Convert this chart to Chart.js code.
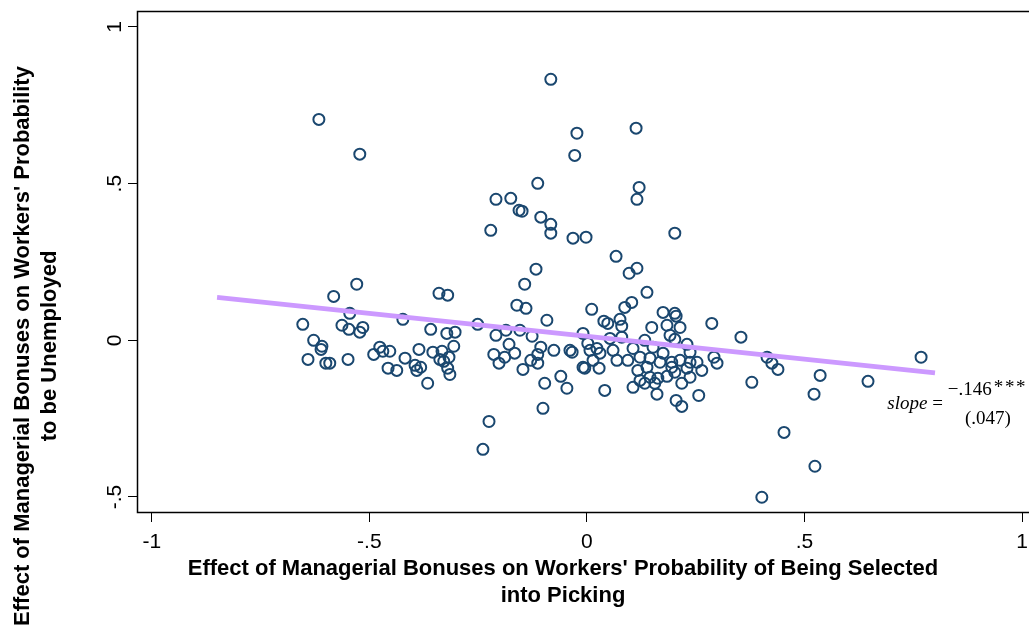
<!DOCTYPE html>
<html>
<head>
<meta charset="utf-8">
<script src="https://cdn.jsdelivr.net/npm/chart.js@4.4.1/dist/chart.umd.min.js"></script>
<style>
	html, body { margin: 0; padding: 0; background: #fff; }
	#wrap { width: 1029px; height: 633px; position: relative; }
</style>
</head>
<body>
<div id="wrap"><canvas id="scatterChart"></canvas></div>
<script>
// effect on selection into picking (x) vs effect on unemployment (y)
const ptX = [
	-0.616, -0.522, -0.653, -0.582, -0.529, -0.545, -0.563, -0.547, -0.515, -0.522,
	-0.628, -0.609, -0.611, -0.641, -0.600, -0.591, -0.549, -0.423, -0.340, -0.320,
	-0.359, -0.322, -0.303, -0.251, -0.306, -0.386, -0.354, -0.333, -0.317, -0.338,
	-0.329, -0.476, -0.490, -0.469, -0.453, -0.418, -0.457, -0.437, -0.395, -0.382,
	-0.391, -0.366, -0.320, -0.315, -0.083, -0.023, 0.113, -0.028, -0.113, 0.120,
	0.115, -0.209, -0.175, -0.156, -0.149, -0.106, -0.083, -0.083, -0.221, -0.032,
	-0.002, 0.202, 0.067, 0.097, 0.115, -0.117, -0.143, 0.138, -0.161, -0.140,
	0.011, -0.092, -0.209, -0.186, -0.154, -0.126, -0.179, -0.214, -0.189, -0.166,
	-0.202, -0.106, -0.076, -0.113, -0.129, -0.113, -0.147, -0.034, -0.039, -0.009,
	-0.097, -0.060, -0.046, -0.101, -0.225, -0.239, 0.041, -0.009, -0.005, 0.028,
	0.002, 0.023, 0.014, 0.030, 0.039, 0.048, 0.076, 0.080, 0.087, 0.103,
	0.053, 0.080, 0.060, 0.069, 0.094, 0.007, 0.175, 0.202, 0.205, 0.149,
	0.184, 0.214, 0.287, 0.191, 0.202, 0.133, 0.106, 0.152, 0.230, 0.175,
	0.237, 0.122, 0.145, 0.168, 0.195, 0.214, 0.237, 0.253, 0.292, 0.299,
	0.117, 0.138, 0.195, 0.202, 0.230, 0.264, 0.122, 0.145, 0.163, 0.184,
	0.218, 0.237, 0.106, 0.133, 0.156, 0.161, 0.205, 0.218, 0.257, 0.354,
	0.414, 0.425, 0.439, 0.379, 0.536, 0.522, 0.646, 0.768, 0.453, 0.524,
	0.402
];
const ptY = [
	0.705, 0.594, 0.051, 0.140, 0.179, 0.086, 0.048, 0.035, 0.041, 0.026,
	0.000, -0.019, -0.029, -0.061, -0.073, -0.073, -0.061, 0.067, 0.150, 0.144,
	0.035, 0.022, 0.026, 0.051, -0.019, -0.029, -0.038, -0.035, -0.054, -0.061,
	-0.067, -0.022, -0.045, -0.035, -0.035, -0.057, -0.089, -0.096, -0.080, -0.086,
	-0.096, -0.137, -0.089, -0.109, 0.833, 0.661, 0.677, 0.590, 0.501, 0.488,
	0.450, 0.450, 0.453, 0.415, 0.412, 0.393, 0.370, 0.342, 0.351, 0.326,
	0.329, 0.342, 0.268, 0.214, 0.230, 0.227, 0.179, 0.153, 0.112, 0.102,
	0.099, 0.064, 0.016, 0.032, 0.032, 0.013, -0.013, -0.045, -0.054, -0.041,
	-0.073, -0.022, -0.032, -0.045, -0.064, -0.073, -0.093, -0.038, -0.032, 0.022,
	-0.137, -0.115, -0.153, -0.217, -0.259, -0.348, -0.160, -0.086, -0.089, -0.089,
	-0.010, -0.026, -0.064, -0.041, 0.061, 0.054, 0.067, 0.045, 0.105, 0.121,
	0.006, 0.010, -0.032, -0.064, -0.064, -0.032, 0.089, 0.086, 0.077, 0.041,
	0.048, 0.041, 0.054, 0.016, 0.003, 0.000, -0.026, -0.022, -0.013, -0.041,
	-0.038, -0.054, -0.057, -0.070, -0.070, -0.064, -0.070, -0.070, -0.054, -0.073,
	-0.096, -0.086, -0.086, -0.102, -0.089, -0.096, -0.128, -0.118, -0.121, -0.115,
	-0.137, -0.118, -0.150, -0.137, -0.137, -0.172, -0.192, -0.211, -0.176, 0.010,
	-0.054, -0.073, -0.093, -0.134, -0.112, -0.172, -0.131, -0.054, -0.294, -0.402,
	-0.501
];

// fitted line end points
const fitX = [-0.85, 0.80];
const fitY = [0.137, -0.104];

const xTickVals = [-1, -0.5, 0, 0.5, 1];
const xTickLabels = ['-1', '-.5', '0', '.5', '1'];
const yTickVals = [-0.5, 0, 0.5, 1];
const yTickLabels = ['-.5', '0', '.5', '1'];

const xTitle = ["Effect of Managerial Bonuses on Workers' Probability of Being Selected", 'into Picking'];
const yTitle = ["Effect of Managerial Bonuses on Workers' Probability", 'to be Unemployed'];
const slopeText = '\u2212.146';
const starText = '***';
const seText = '(.047)';

const navy = '#1a476f';
const lilac = '#cc99ff';
const sans = '"Liberation Sans", Arial, sans-serif';
const serif = '"Liberation Serif", "Times New Roman", serif';

// frame, tick labels, axis titles and the slope note
const stataText = {
	id: 'stataText',
	afterDraw(chart) {
		const ctx = chart.ctx;
		const a = chart.chartArea;
		const xs = chart.scales.x;
		const ys = chart.scales.y;
		ctx.save();
		ctx.strokeStyle = '#000';
		ctx.lineWidth = 1.5;
		ctx.beginPath();
		ctx.moveTo(a.right, a.top + 0.5);
		ctx.lineTo(a.left + 0.5, a.top + 0.5);
		ctx.lineTo(a.left + 0.5, a.bottom + 0.5);
		ctx.lineTo(a.right, a.bottom + 0.5);
		ctx.stroke();

		ctx.fillStyle = '#000';
		ctx.font = '21px ' + sans;
		ctx.textAlign = 'center';
		ctx.textBaseline = 'alphabetic';
		xTickVals.forEach((v, i) => {
			ctx.fillText(xTickLabels[i], xs.getPixelForValue(v), 548);
		});
		ctx.textBaseline = 'middle';
		yTickVals.forEach((v, i) => {
			ctx.save();
			ctx.translate(115, ys.getPixelForValue(v));
			ctx.rotate(-Math.PI / 2);
			ctx.fillText(yTickLabels[i], 0, 0);
			ctx.restore();
		});

		ctx.font = 'bold 22px ' + sans;
		ctx.textBaseline = 'alphabetic';
		ctx.fillText(xTitle[0], 563, 575);
		ctx.fillText(xTitle[1], 563, 602);
		ctx.save();
		ctx.translate(0, 346);
		ctx.rotate(-Math.PI / 2);
		ctx.fillText(yTitle[0], 0, 29);
		ctx.fillText(yTitle[1], 0, 56);
		ctx.restore();

		const sx = xs.getPixelForValue(0.818);
		const sy = ys.getPixelForValue(-0.2);
		ctx.textAlign = 'right';
		ctx.font = '19px ' + serif;
		const eqW = ctx.measureText(' =').width;
		ctx.fillText(' =', sx, sy + 6);
		ctx.font = 'italic 19px ' + serif;
		ctx.fillText('slope', sx - eqW, sy + 6);
		ctx.font = '19px ' + serif;
		ctx.textAlign = 'left';
		ctx.fillText(slopeText, sx + 5, sy - 8);
		const nW = ctx.measureText(slopeText).width;
		ctx.fillText(starText.split('').join('\u200a'), sx + 7 + nW, sy - 10);
		ctx.textAlign = 'center';
		ctx.fillText(seText, sx + 45, sy + 21);
		ctx.restore();
	}
};

const ctx = document.getElementById('scatterChart').getContext('2d');
new Chart(ctx, {
	type: 'scatter',
	data: {
		datasets: [{
			type: 'line',
			label: 'Fit',
			data: fitX.map((x, i) => ({ x: x, y: fitY[i] })),
			borderColor: lilac,
			borderWidth: 5,
			pointRadius: 0,
			fill: false
		}, {
			label: 'Workers',
			data: ptX.map((x, i) => ({ x: x, y: ptY[i] })),
			borderColor: navy,
			backgroundColor: 'rgba(0,0,0,0)',
			borderWidth: 2,
			pointRadius: 5.5,
			pointHoverRadius: 5.5
		}]
	},
	options: {
		responsive: true,
		maintainAspectRatio: false,
		animation: false,
		layout: { autoPadding: false, padding: { top: 11, left: 0, right: 0, bottom: 0 } },
		plugins: {
			legend: { display: false },
			tooltip: { enabled: false }
		},
		scales: {
			x: {
				type: 'linear',
				min: -1.034,
				max: 1.016,
				afterBuildTicks: s => { s.ticks = xTickVals.map(v => ({ value: v })); },
				afterFit: s => { s.height = 121; },
				border: { display: false },
				grid: { drawOnChartArea: false, drawTicks: true, tickLength: 10, color: '#000', lineWidth: 1 },
				ticks: { display: false }
			},
			y: {
				type: 'linear',
				min: -0.548,
				max: 1.051,
				afterBuildTicks: s => { s.ticks = yTickVals.map(v => ({ value: v })); },
				afterFit: s => { s.width = 137; },
				border: { display: false },
				grid: { drawOnChartArea: false, drawTicks: true, tickLength: 9, color: '#000', lineWidth: 1 },
				ticks: { display: false }
			}
		}
	},
	plugins: [stataText]
});
</script>
</body>
</html>
